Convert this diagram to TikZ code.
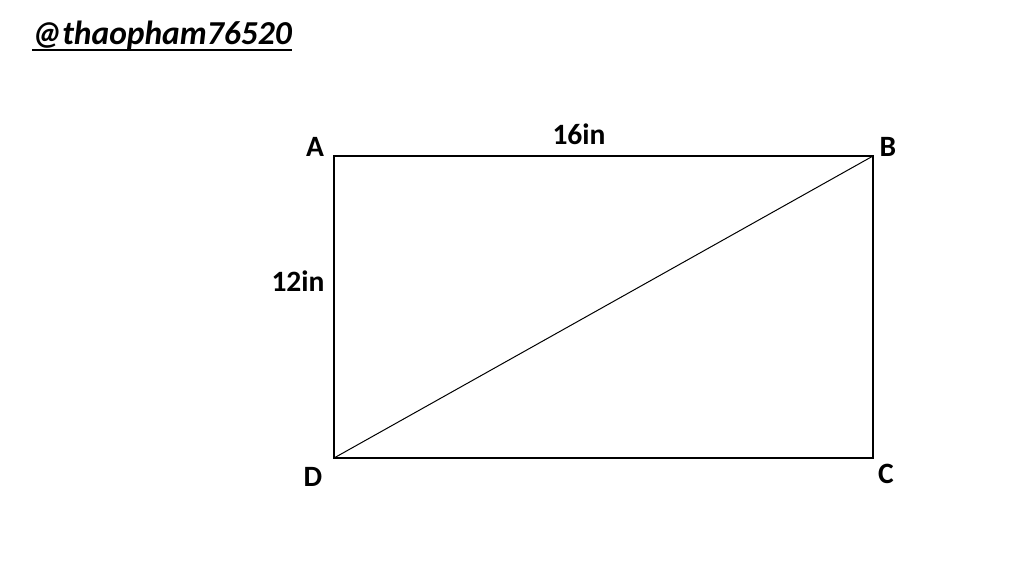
\documentclass[tikz,border=0pt]{standalone}
\usepackage{fontspec}
\setmainfont{Carlito}
\begin{document}
\begin{tikzpicture}[x=1pt,y=-1pt,
  lbl/.style={font=\fontsize{29.5}{32}\selectfont\bfseries, inner sep=0pt},
  edge/.style={draw=black, line width=1.3pt}]
\useasboundingbox[fill=white] (0,0) rectangle (1024,568);
\coordinate (A) at (334,156);
\coordinate (B) at (873,156);
\coordinate (C) at (873,458);
\coordinate (D) at (334,458);
\draw[edge] (A) -- (B) -- (C) -- (D) -- cycle;
\draw[edge, line width=1pt] (D) -- (B);
\node[lbl] (la) at (315,147) {A};
\node[lbl] (lb) at (888,147) {B};
\node[lbl] (lc) at (886,474) {C};
\node[lbl] (ld) at (313,477) {D};
\node[lbl] (l16) at (579,134) {16in};
\node[lbl] (l12) at (298,281) {12in};
\node[font=\fontsize{33.5}{36}\selectfont\bfseries\itshape, inner sep=0pt, anchor=west] (wm) at (32,35) {@thaopham76520};
\draw[line width=2pt] (32,50) -- (292,50);
\end{tikzpicture}
\end{document}
